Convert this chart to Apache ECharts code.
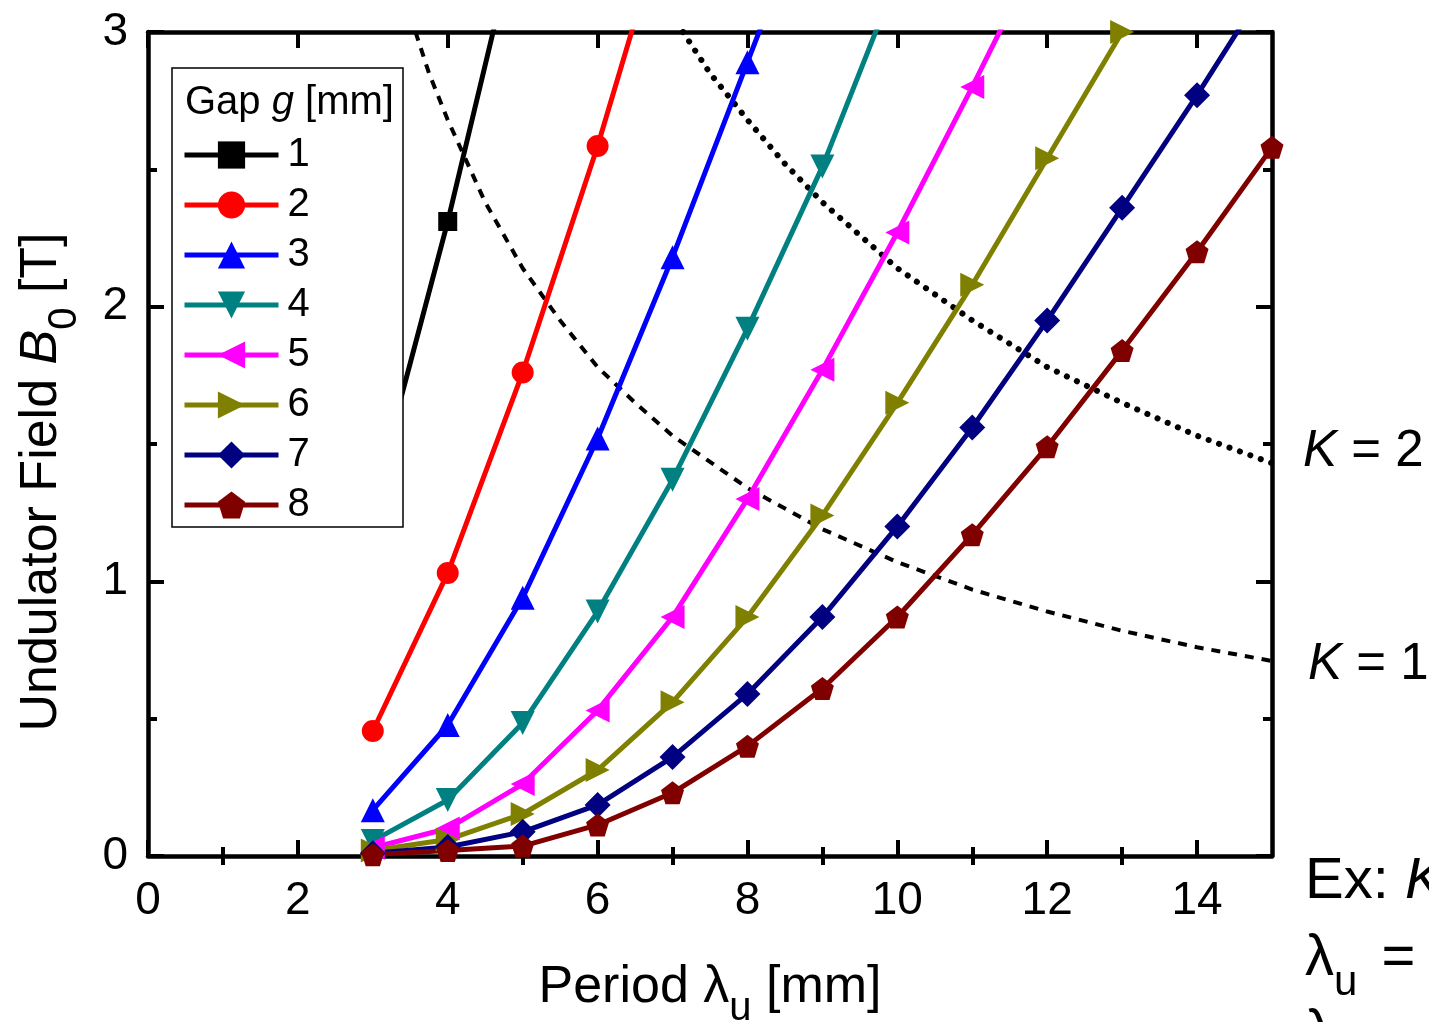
<!DOCTYPE html>
<html>
<head>
<meta charset="utf-8">
<script src="https://cdn.jsdelivr.net/npm/echarts@6/dist/echarts.min.js"></script>
<style>
html,body{margin:0;padding:0;background:#fff;}
#c{width:1429px;height:1022px;}
</style>
</head>
<body>
<div id="c"></div>
<script>
// ---- data ----
const periods = [3, 4, 5, 6, 7, 8, 9, 10, 11, 12, 13, 14, 15];
const gapNames = ['1', '2', '3', '4', '5', '6', '7', '8'];
const gap1 = [1.28, 2.31, 3.45];
const gap2 = [0.455, 1.03, 1.76, 2.585, 3.5];
const gap3 = [0.167, 0.477, 0.94, 1.52, 2.18, 2.89, 3.6];
const gap4 = [0.055, 0.204, 0.484, 0.89, 1.37, 1.92, 2.51, 3.2];
const gap5 = [0.03, 0.10, 0.262, 0.53, 0.87, 1.30, 1.77, 2.27, 2.80, 3.35];
const gap6 = [0.02, 0.06, 0.153, 0.313, 0.56, 0.87, 1.24, 1.65, 2.08, 2.54, 3.0];
const gap7 = [0.01, 0.033, 0.088, 0.186, 0.36, 0.59, 0.87, 1.20, 1.56, 1.95, 2.36, 2.77, 3.2];
const gap8 = [0.005, 0.02, 0.036, 0.113, 0.23, 0.40, 0.61, 0.87, 1.17, 1.49, 1.84, 2.20, 2.58];
const gapValues = [gap1, gap2, gap3, gap4, gap5, gap6, gap7, gap8];

// K = 1 (dashed) and K = 2 (dotted) iso-lines
const kOnePeriod = [3.57, 3.75, 4, 4.5, 5, 5.5, 6, 6.5, 7, 8, 9, 10, 11, 12, 13, 14, 15];
const kOneField  = [3.0, 2.85, 2.68, 2.38, 2.14, 1.95, 1.78, 1.65, 1.53, 1.34, 1.19, 1.07, 0.97, 0.89, 0.82, 0.76, 0.71];
const kTwoPeriod = [7.14, 7.5, 8, 8.5, 9, 10, 11, 12, 13, 14, 15];
const kTwoField  = [3.0, 2.85, 2.68, 2.52, 2.38, 2.14, 1.95, 1.78, 1.65, 1.53, 1.43];

const xMajorTicks = [0, 2, 4, 6, 8, 10, 12, 14];
const xMinorTicks = [1, 3, 5, 7, 9, 11, 13];

// ---- styles ----
const colors = ['#000000', '#ff0000', '#0000ff', '#008080', '#ff00ff', '#808000', '#000080', '#800000'];
const pentagon = 'path://M0,-10L9.51,-3.09L5.88,8.09L-5.88,8.09L-9.51,-3.09Z';
const symbols = ['rect', 'circle', 'triangle', 'triangle', 'triangle', 'triangle', 'diamond', pentagon];
const rotations = [0, 0, 0, 180, 90, -90, 0, 0];
const sizes = [19, 22, 24, 24, 24, 24, 26, 23];
const FONT = 'Liberation Sans, Arial, sans-serif';
const LW = 5;

const chart = echarts.init(document.getElementById('c'), null, {renderer: 'canvas'});

const series = [];
series.push({
  name: 'K1', type: 'line', symbol: 'none', silent: true, z: 1,
  data: kOnePeriod.map((x, i) => [x, kOneField[i]]),
  lineStyle: {color: '#000', width: 4, type: [9, 8]}
});
series.push({
  name: 'K2', type: 'line', symbol: 'none', silent: true, z: 1,
  data: kTwoPeriod.map((x, i) => [x, kTwoField[i]]),
  lineStyle: {color: '#000', width: 6, type: [0.1, 11], cap: 'round'}
});
gapValues.forEach((vals, k) => {
  series.push({
    name: gapNames[k], type: 'line', z: 2,
    data: vals.map((v, i) => [periods[i], v]),
    symbol: symbols[k], symbolSize: sizes[k], symbolRotate: rotations[k],
    showAllSymbol: true,
    lineStyle: {color: colors[k], width: LW},
    itemStyle: {color: colors[k]},
    emphasis: {disabled: true},
    clip: true
  });
});

const axisLineStyle = {color: '#000', width: 4.5};
const tickStyle = {color: '#000', width: 4};
function rich(size, subSize, pad) {
  return {
    t: {fontSize: size, fontFamily: FONT, fill: '#000', verticalAlign: 'top', lineHeight: size},
    i: {fontSize: size, fontFamily: FONT, fill: '#000', fontStyle: 'italic', verticalAlign: 'top', lineHeight: size},
    e: {fontSize: size, fontFamily: FONT, fill: '#000', verticalAlign: 'top', lineHeight: size, padding: [0, 0, 0, 8]},
    s: {fontSize: subSize, fontFamily: FONT, fill: '#000', verticalAlign: 'top', lineHeight: subSize, padding: [pad, 0, 0, 0]}
  };
}

const option = {
  animation: false,
  backgroundColor: '#fff',
  grid: {left: 148, top: 32, right: 157, bottom: 166, containLabel: false},
  xAxis: [
    {
      type: 'value', position: 'bottom', min: 0, max: 15, interval: 2,
      axisLine: {show: true, lineStyle: axisLineStyle, onZero: false},
      axisTick: {show: true, inside: true, length: 16, lineStyle: tickStyle, customValues: xMajorTicks},
      axisLabel: {show: true, customValues: xMajorTicks, fontSize: 46, fontFamily: FONT, color: '#000', margin: 22},
      splitLine: {show: false}
    },
    {
      type: 'value', position: 'bottom', min: 0, max: 15,
      axisLine: {show: false},
      axisTick: {show: true, inside: true, length: 9, lineStyle: tickStyle, customValues: xMinorTicks},
      axisLabel: {show: false},
      splitLine: {show: false}
    },
    {
      type: 'value', position: 'top', min: 0, max: 15,
      axisLine: {show: true, lineStyle: axisLineStyle, onZero: false},
      axisTick: {show: true, inside: true, length: 16, lineStyle: tickStyle, customValues: xMajorTicks},
      axisLabel: {show: false},
      splitLine: {show: false}
    },
    {
      type: 'value', position: 'top', min: 0, max: 15,
      axisLine: {show: false},
      axisTick: {show: true, inside: true, length: 9, lineStyle: tickStyle, customValues: xMinorTicks},
      axisLabel: {show: false},
      splitLine: {show: false}
    }
  ],
  yAxis: [
    {
      type: 'value', position: 'left', min: 0, max: 3, interval: 1,
      axisLine: {show: true, lineStyle: axisLineStyle, onZero: false},
      axisTick: {show: true, inside: true, length: 16, lineStyle: tickStyle},
      minorTick: {show: true, splitNumber: 2, length: 9, lineStyle: tickStyle},
      axisLabel: {show: true, fontSize: 46, fontFamily: FONT, color: '#000', margin: 20},
      splitLine: {show: false}
    },
    {
      type: 'value', position: 'right', min: 0, max: 3, interval: 1,
      axisLine: {show: true, lineStyle: axisLineStyle, onZero: false},
      axisTick: {show: true, inside: true, length: 16, lineStyle: tickStyle},
      minorTick: {show: true, splitNumber: 2, length: 9, lineStyle: tickStyle},
      axisLabel: {show: false},
      splitLine: {show: false}
    }
  ],
  legend: {
    data: gapNames,
    orient: 'vertical',
    left: 182, top: 135,
    padding: 0,
    itemWidth: 94, itemHeight: 34, itemGap: 10,
    selectedMode: false,
    lineStyle: {width: LW},
    textStyle: {fontSize: 40, fontFamily: FONT, color: '#000', padding: [0, 0, 0, 4]},
    z: 5
  },
  graphic: [
    {type: 'rect', z: 4, shape: {x: 172, y: 68, width: 231, height: 459},
     style: {fill: '#fff', stroke: '#000', lineWidth: 1.5}},
    {type: 'text', z: 6, x: 185, y: 103,
     style: {text: '{t|Gap }{i|g}{t| [mm]}', verticalAlign: 'middle', rich: rich(40, 30, 0)}},
    // axis titles
    {type: 'text', z: 6, x: 710, y: 962,
     style: {text: '{t|Period λ}{s|u}{t| [mm]}', align: 'center', verticalAlign: 'top', rich: rich(52, 40, 27)}},
    {type: 'text', z: 6, x: 16, y: 482, rotation: Math.PI / 2,
     style: {text: '{t|Undulator Field }{i|B}{s|0}{t| [T]}', align: 'center', verticalAlign: 'top', rich: rich(52, 40, 29)}},
    // right-hand annotations
    {type: 'text', z: 6, x: 1303, y: 452,
     style: {text: '{i|K}{t| = 2}', verticalAlign: 'middle', rich: rich(51, 40, 0)}},
    {type: 'text', z: 6, x: 1308, y: 665,
     style: {text: '{i|K}{t| = 1}', verticalAlign: 'middle', rich: rich(51, 40, 0)}},
    {type: 'text', z: 6, x: 1305, y: 882,
     style: {text: '{t|Ex: }{i|K}', verticalAlign: 'middle', rich: rich(58, 42, 0)}},
    {type: 'text', z: 6, x: 1305, y: 930,
     style: {text: '{t|λ}{s|u}{e| =}', verticalAlign: 'top', rich: rich(58, 42, 32)}},
    {type: 'text', z: 6, x: 1305, y: 1034,
     style: {text: 'λ', verticalAlign: 'middle', fontSize: 58, fontFamily: FONT, fill: '#000'}}
  ],
  series: series
};
chart.setOption(option);
</script>
</body>
</html>
